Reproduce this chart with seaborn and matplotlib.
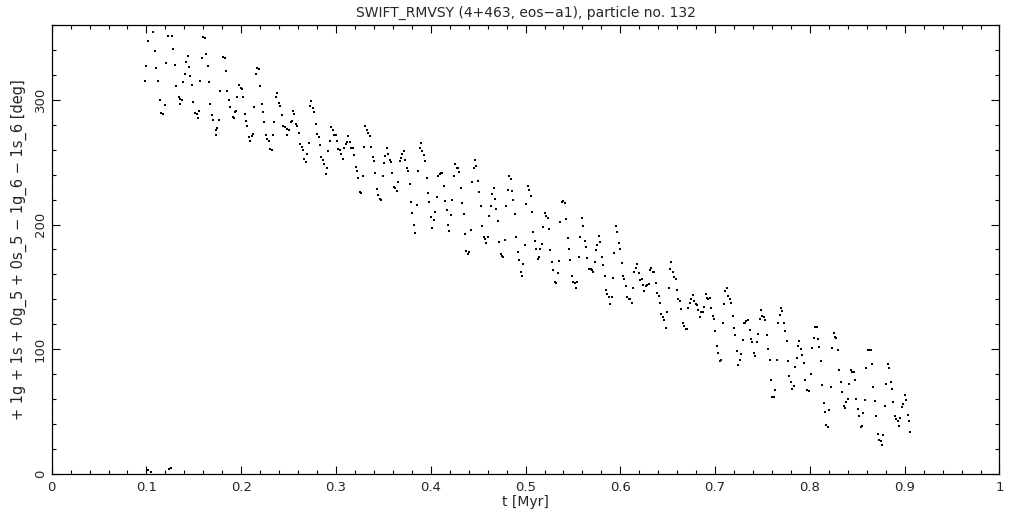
# Librerías necesarias
import numpy as np
import pandas as pd
import matplotlib
matplotlib.use("Agg")
import matplotlib.pyplot as plt
import seaborn as sns
from matplotlib.ticker import MultipleLocator

# Tiempo [Myr] de cada punto
tiempo = [
    0.0985, 0.0998, 0.1019, 0.1072, 0.1093, 0.1104, 0.1125, 0.1140, 0.1153, 0.1178,
    0.1199, 0.1209, 0.1230, 0.1269, 0.1283, 0.1304, 0.1315, 0.1340, 0.1354, 0.1357,
    0.1375, 0.1389, 0.1410, 0.1420, 0.1441, 0.1452, 0.1459, 0.1484, 0.1494, 0.1515,
    0.1530, 0.1547, 0.1558, 0.1568, 0.1589, 0.1600, 0.1621, 0.1631, 0.1652, 0.1663,
    0.1674, 0.1695, 0.1705, 0.1737, 0.1737, 0.1747, 0.1765, 0.1779, 0.1804, 0.1826,
    0.1842, 0.1853, 0.1874, 0.1885, 0.1910, 0.1920, 0.1937, 0.1948, 0.1958, 0.1980,
    0.1994, 0.2011, 0.2022, 0.2043, 0.2050, 0.2064, 0.2085, 0.2096, 0.2114, 0.2127,
    0.2138, 0.2159, 0.2170, 0.2187, 0.2201, 0.2222, 0.2233, 0.2243, 0.2264, 0.2275,
    0.2296, 0.2307, 0.2328, 0.2338, 0.2349, 0.2370, 0.2381, 0.2398, 0.2412, 0.2433,
    0.2444, 0.2459, 0.2480, 0.2486, 0.2507, 0.2522, 0.2532, 0.2549, 0.2560, 0.2581,
    0.2592, 0.2613, 0.2623, 0.2638, 0.2655, 0.2665, 0.2687, 0.2697, 0.2718, 0.2729,
    0.2739, 0.2754, 0.2768, 0.2792, 0.2803, 0.2821, 0.2834, 0.2845, 0.2860, 0.2873,
    0.2898, 0.2908, 0.2919, 0.2940, 0.2950, 0.2968, 0.2982, 0.3003, 0.3014, 0.3024,
    0.3045, 0.3056, 0.3077, 0.3088, 0.3109, 0.3119, 0.3130, 0.3151, 0.3161, 0.3183,
    0.3193, 0.3214, 0.3225, 0.3235, 0.3256, 0.3267, 0.3288, 0.3299, 0.3309, 0.3324,
    0.3338, 0.3359, 0.3372, 0.3394, 0.3404, 0.3415, 0.3436, 0.3446, 0.3461, 0.3475,
    0.3499, 0.3510, 0.3520, 0.3541, 0.3552, 0.3573, 0.3584, 0.3594, 0.3615, 0.3626,
    0.3644, 0.3657, 0.3678, 0.3689, 0.3700, 0.3721, 0.3731, 0.3752, 0.3763, 0.3784,
    0.3795, 0.3805, 0.3826, 0.3837, 0.3858, 0.3868, 0.3890, 0.3900, 0.3911, 0.3929,
    0.3942, 0.3963, 0.3974, 0.3984, 0.4006, 0.4016, 0.4037, 0.4048, 0.4069, 0.4079,
    0.4094, 0.4111, 0.4122, 0.4143, 0.4153, 0.4174, 0.4185, 0.4196, 0.4217, 0.4227,
    0.4248, 0.4259, 0.4280, 0.4291, 0.4301, 0.4322, 0.4333, 0.4354, 0.4364, 0.4375,
    0.4396, 0.4407, 0.4428, 0.4438, 0.4459, 0.4470, 0.4480, 0.4501, 0.4512, 0.4533,
    0.4544, 0.4565, 0.4575, 0.4586, 0.4607, 0.4618, 0.4639, 0.4649, 0.4670, 0.4681,
    0.4691, 0.4713, 0.4723, 0.4744, 0.4755, 0.4765, 0.4786, 0.4797, 0.4818, 0.4829,
    0.4850, 0.4860, 0.4871, 0.4892, 0.4902, 0.4924, 0.4934, 0.4955, 0.4966, 0.4976,
    0.4998, 0.5008, 0.5029, 0.5040, 0.5061, 0.5071, 0.5082, 0.5103, 0.5114, 0.5135,
    0.5145, 0.5156, 0.5177, 0.5187, 0.5208, 0.5219, 0.5240, 0.5251, 0.5261, 0.5282,
    0.5293, 0.5314, 0.5325, 0.5346, 0.5356, 0.5367, 0.5388, 0.5398, 0.5420, 0.5430,
    0.5451, 0.5462, 0.5472, 0.5493, 0.5504, 0.5525, 0.5536, 0.5546, 0.5567, 0.5578,
    0.5599, 0.5609, 0.5631, 0.5641, 0.5652, 0.5673, 0.5694, 0.5704, 0.5715, 0.5736,
    0.5747, 0.5757, 0.5778, 0.5789, 0.5810, 0.5821, 0.5842, 0.5852, 0.5863, 0.5884,
    0.5894, 0.5916, 0.5926, 0.5937, 0.5958, 0.5968, 0.5989, 0.6000, 0.6021, 0.6032,
    0.6042, 0.6063, 0.6074, 0.6095, 0.6105, 0.6127, 0.6137, 0.6148, 0.6169, 0.6179,
    0.6200, 0.6211, 0.6232, 0.6243, 0.6253, 0.6274, 0.6285, 0.6306, 0.6317, 0.6327,
    0.6348, 0.6359, 0.6380, 0.6390, 0.6411, 0.6422, 0.6432, 0.6454, 0.6464, 0.6485,
    0.6496, 0.6517, 0.6528, 0.6538, 0.6559, 0.6570, 0.6591, 0.6601, 0.6612, 0.6633,
    0.6644, 0.6665, 0.6675, 0.6696, 0.6707, 0.6717, 0.6739, 0.6749, 0.6770, 0.6781,
    0.6802, 0.6812, 0.6823, 0.6844, 0.6855, 0.6876, 0.6886, 0.6907, 0.6918, 0.6928,
    0.6950, 0.6960, 0.6981, 0.6992, 0.7002, 0.7024, 0.7034, 0.7055, 0.7066, 0.7087,
    0.7097, 0.7108, 0.7129, 0.7140, 0.7161, 0.7171, 0.7192, 0.7203, 0.7213, 0.7235,
    0.7245, 0.7266, 0.7277, 0.7298, 0.7308, 0.7319, 0.7330, 0.7344, 0.7372, 0.7382,
    0.7393, 0.7414, 0.7424, 0.7446, 0.7456, 0.7477, 0.7488, 0.7498, 0.7519, 0.7530,
    0.7551, 0.7562, 0.7583, 0.7593, 0.7604, 0.7625, 0.7636, 0.7657, 0.7667, 0.7689,
    0.7699, 0.7710, 0.7731, 0.7741, 0.7762, 0.7773, 0.7783, 0.7804, 0.7815, 0.7836,
    0.7847, 0.7868, 0.7878, 0.7889, 0.7910, 0.7921, 0.7942, 0.7952, 0.7973, 0.7994,
    0.8015, 0.8026, 0.8047, 0.8058, 0.8079, 0.8089, 0.8100, 0.8121, 0.8132, 0.8153,
    0.8163, 0.8174, 0.8195, 0.8205, 0.8226, 0.8237, 0.8258, 0.8269, 0.8279, 0.8300,
    0.8311, 0.8332, 0.8342, 0.8364, 0.8374, 0.8385, 0.8406, 0.8416, 0.8437, 0.8448,
    0.8469, 0.8480, 0.8490, 0.8511, 0.8522, 0.8543, 0.8553, 0.8564, 0.8585, 0.8596,
    0.8617, 0.8638, 0.8649, 0.8659, 0.8670, 0.8691, 0.8701, 0.8722, 0.8733, 0.8754,
    0.8765, 0.8775, 0.8796, 0.8807, 0.8828, 0.8838, 0.8860, 0.8870, 0.8881, 0.8902,
    0.8912, 0.8933, 0.8944, 0.8955, 0.8976, 0.8986, 0.9007, 0.9018, 0.9039, 0.9050,
    0.9060,
]

# Ángulo resonante [deg] de cada punto
angulo = [
    315.1, 326.9, 347.4, 354.6, 338.9, 325.3, 314.9, 299.6, 289.2, 288.4,
    295.6, 329.5, 351.2, 351.2, 340.5, 327.9, 310.9, 302.0, 300.4, 296.7,
    299.6, 314.3, 320.7, 330.1, 335.2, 326.1, 319.1, 311.7, 298.3, 289.2,
    288.4, 285.2, 291.1, 314.9, 333.3, 350.1, 349.3, 336.5, 327.1, 314.3,
    296.4, 287.6, 283.6, 275.6, 271.6, 277.2, 283.6, 307.1, 334.1, 333.3,
    323.1, 307.1, 299.6, 294.0, 286.0, 285.2, 290.0, 291.1, 302.0, 311.7,
    309.7, 308.5, 302.0, 288.4, 282.8, 278.8, 270.0, 266.8, 270.8, 272.9,
    294.0, 320.7, 325.3, 324.5, 310.9, 296.4, 290.0, 282.2, 271.6, 268.4,
    266.8, 260.3, 259.5, 271.6, 282.0, 302.3, 305.7, 297.5, 295.1, 287.8,
    279.3, 278.2, 276.6, 271.8, 275.8, 282.0, 282.8, 290.8, 288.6, 280.6,
    279.3, 273.4, 264.6, 262.2, 259.5, 252.3, 250.2, 256.6, 265.6, 295.1,
    299.1, 293.5, 290.3, 280.6, 272.6, 270.0, 263.8, 254.2, 251.5, 248.6,
    240.3, 245.1, 259.0, 266.8, 278.0, 275.6, 271.6, 271.6, 266.8, 260.3,
    259.5, 256.6, 252.3, 261.4, 264.4, 266.0, 270.8, 266.0, 261.1, 261.1,
    255.5, 245.9, 242.9, 237.1, 225.9, 225.1, 238.7, 261.9, 279.0, 275.8,
    273.2, 270.8, 261.9, 253.9, 250.7, 241.1, 228.3, 223.5, 220.7, 219.5,
    238.7, 249.1, 254.7, 261.4, 256.6, 251.5, 250.2, 241.1, 230.4, 229.1,
    226.7, 233.9, 251.0, 253.4, 256.6, 259.0, 251.5, 245.1, 242.9, 232.3,
    217.8, 209.0, 199.4, 193.0, 215.4, 243.2, 261.1, 265.2, 258.7, 255.5,
    250.7, 237.1, 225.1, 218.1, 205.8, 197.0, 203.7, 209.8, 221.9, 238.9,
    240.5, 241.1, 241.1, 230.7, 218.7, 211.4, 199.4, 194.6, 207.4, 219.5,
    238.7, 248.3, 245.1, 245.1, 241.9, 229.1, 217.0, 208.2, 192.2, 178.6,
    176.2, 177.8, 195.4, 233.9, 245.1, 251.5, 246.7, 234.7, 225.9, 214.6,
    198.6, 189.8, 188.2, 185.0, 189.8, 206.6, 214.6, 224.3, 229.1, 220.3,
    212.2, 202.6, 185.8, 176.2, 174.6, 173.8, 187.4, 214.6, 227.5, 238.7,
    236.3, 226.7, 219.5, 208.2, 189.8, 177.8, 171.3, 162.0, 158.5, 168.1,
    183.4, 216.2, 230.7, 227.5, 222.7, 209.8, 193.8, 186.6, 180.2, 172.1,
    173.8, 180.2, 184.2, 197.8, 209.0, 206.6, 205.0, 196.2, 179.4, 169.7,
    163.3, 153.7, 152.9, 160.9, 170.5, 201.8, 217.8, 218.7, 217.0, 204.2,
    189.0, 180.2, 171.3, 158.5, 153.7, 152.9, 148.9, 153.7, 173.8, 189.8,
    205.0, 198.6, 186.6, 181.8, 172.9, 164.1, 164.1, 163.3, 161.7, 169.7,
    179.4, 183.4, 190.6, 185.8, 173.8, 167.3, 158.5, 147.3, 144.1, 141.7,
    136.1, 141.7, 156.9, 177.0, 198.6, 193.8, 185.0, 180.2, 168.9, 158.5,
    156.1, 150.5, 141.7, 140.1, 140.1, 136.9, 148.9, 161.7, 164.9, 168.1,
    160.9, 155.3, 156.1, 151.3, 146.5, 150.5, 151.3, 152.1, 163.3, 164.9,
    161.7, 161.7, 152.9, 144.9, 142.5, 136.9, 128.0, 125.6, 123.2, 116.8,
    129.7, 148.9, 164.1, 169.7, 161.7, 157.7, 156.1, 147.3, 140.1, 138.5,
    132.1, 120.8, 118.4, 116.0, 116.0, 132.9, 136.9, 140.1, 143.3, 138.5,
    136.1, 135.3, 131.3, 125.6, 129.7, 129.7, 133.7, 144.1, 140.9, 140.1,
    140.9, 132.9, 126.4, 124.0, 114.4, 102.4, 96.8, 90.4, 91.2, 120.8,
    136.1, 146.5, 148.9, 142.5, 140.1, 136.9, 126.4, 116.8, 111.2, 98.4,
    87.2, 91.2, 96.0, 107.2, 120.8, 120.8, 122.4, 123.2, 115.2, 108.0,
    105.6, 96.8, 94.4, 105.6, 112.0, 124.0, 131.3, 126.4, 125.6, 123.2,
    111.2, 100.0, 91.2, 75.1, 61.5, 61.5, 67.1, 91.2, 120.8, 127.2,
    132.9, 130.5, 120.8, 114.4, 106.4, 90.4, 78.3, 73.5, 67.9, 70.3,
    85.6, 92.8, 102.4, 106.4, 100.0, 95.2, 88.8, 75.1, 67.1, 66.3,
    79.9, 100.8, 108.8, 117.6, 117.6, 108.0, 101.6, 90.4, 71.1, 56.7,
    49.5, 39.0, 37.4, 51.1, 69.5, 100.8, 112.8, 109.6, 108.8, 99.2,
    83.1, 73.5, 65.5, 54.3, 52.7, 57.5, 59.9, 71.9, 83.1, 81.5,
    81.5, 75.1, 59.9, 51.9, 46.3, 37.4, 38.2, 48.7, 59.1, 84.7,
    99.2, 99.2, 99.2, 88.0, 69.5, 58.3, 46.3, 31.8, 27.0, 26.2,
    23.0, 31.0, 54.3, 71.9, 88.0, 84.7, 73.5, 67.9, 57.5, 46.3,
    43.9, 42.3, 38.2, 44.7, 53.5, 55.9, 63.1, 59.1, 47.1, 42.3,
    33.4,
]

# Puntos que dan la vuelta (360 -> 0)
tiempo_cero = [0.1021, 0.1043, 0.1243, 0.1259]
angulo_cero = [3.6, 2.0, 4.0, 5.2]

df = pd.DataFrame({"t": tiempo + tiempo_cero, "ang": angulo + angulo_cero})

sns.set_style("ticks")
plt.rcParams["font.family"] = ["DejaVu Sans"]

fig = plt.figure(figsize=(10.21, 5.11), dpi=100)
ax = fig.add_axes([0.0506, 0.0724, 0.9283, 0.8787])

# puntos de un pixel, como en el original
sns.scatterplot(data=df, x="t", y="ang", ax=ax, color="black",
                marker="s", s=0.9, linewidth=0, legend=False)

ax.set_xlim(0, 1)
ax.set_ylim(0, 360)
ax.xaxis.set_major_locator(MultipleLocator(0.1))
ax.xaxis.set_minor_locator(MultipleLocator(0.02))
ax.yaxis.set_major_locator(MultipleLocator(100))
ax.yaxis.set_minor_locator(MultipleLocator(20))
ax.xaxis.set_major_formatter(lambda v, p: "0" if v == 0 else ("1" if v == 1 else f"{v:.1f}"))

ax.tick_params(which="both", direction="in", top=True, right=True,
               width=0.8, color="black", labelsize=9.5)
ax.tick_params(which="major", length=6)
ax.tick_params(which="minor", length=3)
ax.tick_params(axis="x", pad=5)
for lab in ax.get_yticklabels():
    lab.set_rotation(90)
    lab.set_va("center")
for s in ax.spines.values():
    s.set_linewidth(0.9)
    s.set_color("black")

ax.set_xlabel("t [Myr]", fontsize=10, labelpad=1)
ax.set_ylabel("+ 1g + 1s + 0g_5 + 0s_5 \u2212 1g_6 \u2212 1s_6 [deg]",
              fontsize=10.5, labelpad=5)
ax.set_title("SWIFT_RMVSY (4+463, eos\u2212a1), particle no. 132",
             fontsize=10, pad=6)

fig.savefig("out.png", dpi=100, facecolor="white")
